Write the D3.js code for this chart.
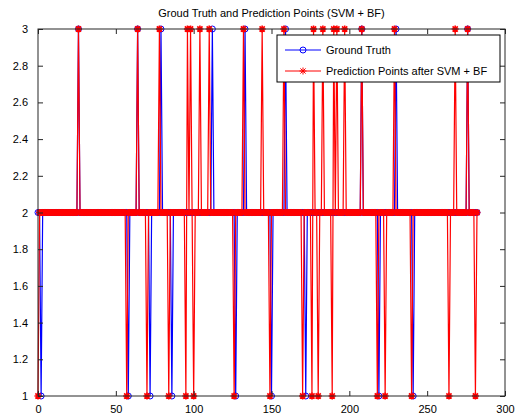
<!DOCTYPE html>
<html lang="en">
<head>
  <meta charset="UTF-8">
  <title>Groud Truth and Prediction Points (SVM + BF)</title>
  <script src="https://d3js.org/d3.v7.min.js"></script>
  <style>
    body, html { margin: 0; padding: 0; background: #fff; overflow: hidden; }
    text { font-family: "Liberation Sans", Arial, sans-serif; font-size: 11px; fill: #000; }
  </style>
</head>
<body>
  <svg id="chart" width="517" height="419"></svg>
  <script>
    // Samples run from x = 0 to lastIndex; every sample is 2 unless listed below
    const lastIndex = 282;
    const baseLevel = 2;

    // Ground truth: samples at 3 and at 1
    const truthHigh = [26, 64, 79, 112, 133, 159, 208, 230, 276];
    const truthLow = [2, 58, 72, 86, 127, 150, 172, 219, 241];

    // Prediction after SVM + BF: samples at 3 and at 1
    const predHigh = [26, 64, 78, 96, 98, 104, 110, 132, 144, 158, 177, 183, 190, 192, 197, 208, 229, 268, 276];
    const predLow = [0, 57, 70, 84, 95, 100, 126, 149, 170, 176, 180, 189, 218, 223, 240, 264, 281];

    const xTicks = [0, 50, 100, 150, 200, 250, 300];
    const yTicks = [1, 1.2, 1.4, 1.6, 1.8, 2, 2.2, 2.4, 2.6, 2.8, 3];
    const legendLabels = ['Ground Truth', 'Prediction Points after SVM + BF'];

    function buildSeries(high, low) {
      const out = [];
      for (let i = 0; i <= lastIndex; i++) {
        let v = baseLevel;
        if (high.includes(i)) v = 3;
        if (low.includes(i)) v = 1;
        out.push({ x: i, y: v });
      }
      return out;
    }

    const truth = buildSeries(truthHigh, truthLow);
    const pred = buildSeries(predHigh, predLow);

    const svg = d3.select('#chart');
    const plot = { left: 38, right: 505, top: 29, bottom: 396 };

    const x = d3.scaleLinear().domain([0, 300]).range([plot.left, plot.right]);
    const y = d3.scaleLinear().domain([1, 3]).range([plot.bottom, plot.top]);

    // Title
    svg.append('text')
      .attr('x', (plot.left + plot.right) / 2)
      .attr('y', 17)
      .attr('text-anchor', 'middle')
      .text('Groud Truth and Prediction Points (SVM + BF)');

    const line = d3.line().x(d => x(d.x)).y(d => y(d.y));
    const starPath = 'M-3.5,0H3.5M0,-3.5V3.5M-2.6,-2.6L2.6,2.6M-2.6,2.6L2.6,-2.6';

    // Ground truth (blue, circles)
    svg.append('path')
      .datum(truth)
      .attr('d', line)
      .attr('fill', 'none')
      .attr('stroke', '#0000ff')
      .attr('stroke-width', 1.2);

    svg.append('g').selectAll('circle')
      .data(truth)
      .join('circle')
      .attr('cx', d => x(d.x))
      .attr('cy', d => y(d.y))
      .attr('r', 3)
      .attr('fill', 'none')
      .attr('stroke', '#0000ff')
      .attr('stroke-width', 1);

    // Prediction (red, asterisks)
    svg.append('path')
      .datum(pred)
      .attr('d', line)
      .attr('fill', 'none')
      .attr('stroke', '#ff0000')
      .attr('stroke-width', 1.2);

    svg.append('g').selectAll('path')
      .data(pred)
      .join('path')
      .attr('transform', d => `translate(${x(d.x)},${y(d.y)})`)
      .attr('d', starPath)
      .attr('fill', 'none')
      .attr('stroke', '#ff0000')
      .attr('stroke-width', 1.6);

    // Axes box with inward ticks on all sides
    const axisColor = '#262626';
    svg.append('rect')
      .attr('x', plot.left).attr('y', plot.top)
      .attr('width', plot.right - plot.left).attr('height', plot.bottom - plot.top)
      .attr('fill', 'none')
      .attr('stroke', axisColor)
      .attr('stroke-width', 1);

    const tickLen = 5;
    const axisBottom = d3.axisBottom(x).tickValues(xTicks).tickSize(-tickLen).tickPadding(9);
    const axisTop = d3.axisTop(x).tickValues(xTicks).tickSize(-tickLen).tickFormat('');
    const axisLeft = d3.axisLeft(y).tickValues(yTicks).tickSize(-tickLen).tickPadding(10).tickFormat(d3.format('~g'));
    const axisRight = d3.axisRight(y).tickValues(yTicks).tickSize(-tickLen).tickFormat('');

    [[axisBottom, `translate(0,${plot.bottom})`], [axisTop, `translate(0,${plot.top})`],
     [axisLeft, `translate(${plot.left},0)`], [axisRight, `translate(${plot.right},0)`]].forEach(([ax, tr]) => {
      const g = svg.append('g').attr('transform', tr).call(ax);
      g.select('.domain').remove();
      g.selectAll('line').attr('stroke', axisColor);
      g.selectAll('text').attr('font-family', null).attr('font-size', null);
    });

    // Legend
    const lg = svg.append('g').attr('transform', 'translate(277,35)');
    lg.append('rect')
      .attr('width', 223).attr('height', 47)
      .attr('fill', '#fff')
      .attr('stroke', '#000')
      .attr('stroke-width', 1);

    const rows = lg.selectAll('g.row')
      .data(legendLabels)
      .join('g')
      .attr('class', 'row')
      .attr('transform', (d, i) => `translate(0,${15 + i * 21})`);

    rows.append('line')
      .attr('x1', 8).attr('x2', 44)
      .attr('stroke', (d, i) => i === 0 ? '#0000ff' : '#ff0000');

    rows.filter((d, i) => i === 0).append('circle')
      .attr('cx', 26).attr('r', 3)
      .attr('fill', 'none').attr('stroke', '#0000ff');

    rows.filter((d, i) => i === 1).append('path')
      .attr('transform', 'translate(26,0)')
      .attr('d', starPath)
      .attr('fill', 'none').attr('stroke', '#ff0000');

    rows.append('text')
      .attr('x', 49)
      .attr('dy', '0.35em')
      .text(d => d);
  </script>
</body>
</html>
